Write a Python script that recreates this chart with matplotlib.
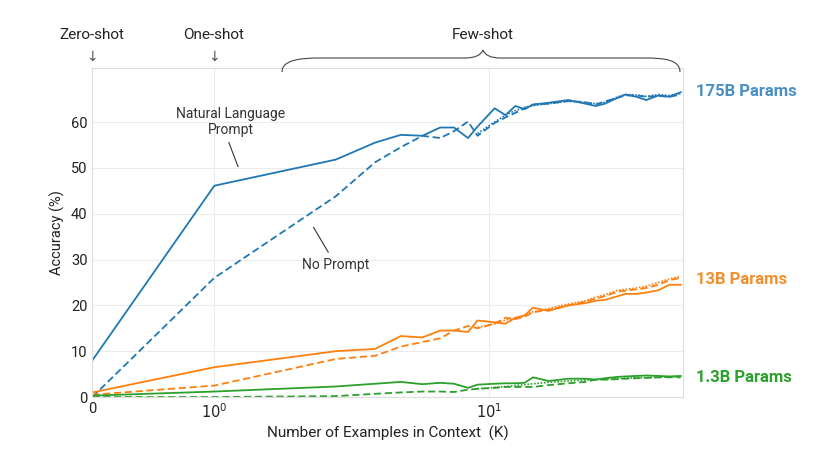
import matplotlib
matplotlib.use("Agg")
import matplotlib.pyplot as plt
from matplotlib.path import Path
from matplotlib.patches import PathPatch

plt.rcParams["font.family"] = "Roboto"

K_main = [0, 1, 2.77, 3.85, 4.78, 5.73, 6.65, 7.47, 8.4, 9.1, 10.5, 11.5, 12.5, 13.5, 14.5, 16.5, 19.5, 22.5, 24.5, 26.5, 29.5, 31.5, 34.5, 37.5, 41.5, 45.5, 50]
big_nl = [8.0, 46.1, 51.8, 55.5, 57.2, 57.0, 58.8, 58.8, 56.5, 59.0, 63.0, 61.5, 63.5, 62.8, 63.8, 64.2, 64.8, 64.0, 63.5, 64.0, 65.3, 66.0, 65.5, 64.8, 65.8, 65.5, 66.5]
big_np = [0.0, 26.0, 43.8, 51.2, 54.5, 57.0, 56.5, 58.0, 60.1, 57.0, 59.8, 61.0, 62.0, 63.0, 63.8, 64.0, 64.6, 64.3, 63.8, 64.5, 65.3, 65.8, 65.8, 65.5, 65.7, 65.5, 66.0]
big_dot = [None]*9 + [57.5, 60.0, 61.5, 62.5, 63.2, 63.6, 64.0, 64.5, 64.3, 64.0, 64.3, 65.5, 66.0, 65.9, 65.6, 66.0, 65.8, 66.2]
mid_nl = [1.0, 6.5, 10.0, 10.5, 13.3, 13.0, 14.5, 14.5, 14.2, 16.7, 16.3, 16.0, 17.3, 17.8, 19.5, 18.8, 20.0, 20.5, 21.0, 21.2, 22.0, 22.5, 22.5, 22.8, 23.3, 24.5, 24.5]
mid_np = [0.5, 2.5, 8.3, 9.0, 11.0, 12.0, 12.8, 14.5, 15.5, 15.0, 16.0, 17.3, 17.0, 17.5, 18.5, 19.0, 20.0, 20.8, 21.5, 22.0, 23.0, 23.2, 23.5, 23.8, 24.5, 25.5, 26.0]
mid_dot = [None]*9 + [15.2, 16.0, 16.8, 17.2, 17.8, 18.6, 19.3, 20.3, 21.0, 21.8, 22.3, 23.3, 23.5, 23.8, 24.2, 25.0, 25.8, 26.3]
small_nl = [0.3, 1.2, 2.3, 2.9, 3.3, 2.8, 3.1, 2.9, 2.0, 2.7, 2.9, 3.0, 3.0, 3.1, 4.3, 3.5, 4.0, 4.0, 3.8, 4.1, 4.4, 4.5, 4.6, 4.7, 4.6, 4.5, 4.6]
small_np = [0.0, 0.0, 0.2, 0.7, 1.0, 1.2, 1.2, 1.1, 1.6, 1.8, 2.0, 2.2, 2.2, 2.2, 2.2, 2.6, 3.0, 3.3, 3.8, 3.8, 3.9, 4.0, 4.1, 4.2, 4.3, 4.3, 4.3]
small_dot = [None]*9 + [1.8, 2.1, 2.3, 2.5, 2.7, 2.9, 3.2, 3.5, 3.7, 3.8, 3.9, 4.0, 4.1, 4.2, 4.2, 4.3, 4.4, 4.4]

BLUE, ORANGE, GREEN = "#1f77b4", "#ff7f0e", "#2ca02c"

fig = plt.figure(figsize=(8.17, 4.59), dpi=100)
ax = fig.add_axes([0.113, 0.135, 0.723, 0.717])
ax.set_xscale("symlog", linthresh=1, linscale=0.4)

def clean(k, v):
    pts = [(a, b) for a, b in zip(k, v) if b is not None]
    return [p[0] for p in pts], [p[1] for p in pts]

for c, nl, npv, dot in [(BLUE, big_nl, big_np, big_dot), (ORANGE, mid_nl, mid_np, mid_dot), (GREEN, small_nl, small_np, small_dot)]:
    ax.plot(K_main, nl, color=c, lw=1.3)
    ax.plot(K_main, npv, color=c, lw=1.3, ls=(0, (4, 2)))
    ax.plot(*clean(K_main, dot), color=c, lw=1.2, ls=(0, (1, 1)))

ax.set_xlim(0, 51)
ax.set_ylim(0, 71.8)
ax.set_xticks([0, 1, 10])
ax.set_xticklabels(["0", "$10^0$", "$10^1$"])
ax.xaxis.set_minor_locator(matplotlib.ticker.NullLocator())
ax.set_yticks([0, 10, 20, 30, 40, 50, 60])
ax.tick_params(length=0, labelsize=10.5, colors="#222222")
ax.grid(True, color="#ebebeb", lw=0.8)
for s in ax.spines.values():
    s.set_color("#dddddd")
ax.set_xlabel("Number of Examples in Context  (K)", fontsize=11, color="#222222")
ax.set_ylabel("Accuracy (%)", fontsize=10.5, color="#222222")

ax.text(1.15, 60, "Natural Language\nPrompt", ha="center", va="center", fontsize=10, color="#333333")
ax.plot([1.13, 1.22], [55.5, 50.3], color="#333333", lw=0.8)
ax.text(2.77, 28.8, "No Prompt", ha="center", va="center", fontsize=10, color="#333333")
ax.plot([2.3, 2.6], [37.0, 31.6], color="#333333", lw=0.8)

H = 459
def fy(y):
    return 1 - y / H
def fx(x):
    return x / 817
fig.text(fx(92), fy(35), "Zero-shot", ha="center", va="center", fontsize=11, color="#222222")
fig.text(fx(92), fy(57), "↓", ha="center", va="center", fontsize=10, color="#555555", family="DejaVu Sans")
fig.text(fx(214), fy(35), "One-shot", ha="center", va="center", fontsize=11, color="#222222")
fig.text(fx(214), fy(57), "↓", ha="center", va="center", fontsize=10, color="#555555", family="DejaVu Sans")
fig.text(fx(483), fy(35), "Few-shot", ha="center", va="center", fontsize=11, color="#222222")

verts = [(282, 72), (282, 60), (300, 58), (320, 58), (465, 58), (480, 58), (483, 50),
         (486, 58), (500, 58), (645, 58), (665, 58), (680, 60), (680, 72)]
codes = [Path.MOVETO, Path.CURVE4, Path.CURVE4, Path.CURVE4, Path.LINETO, Path.CURVE3, Path.CURVE3,
         Path.CURVE3, Path.CURVE3, Path.LINETO, Path.CURVE4, Path.CURVE4, Path.CURVE4]
p = Path([(fx(x), fy(y)) for x, y in verts], codes)
fig.add_artist(PathPatch(p, transform=fig.transFigure, fill=False, lw=0.8, edgecolor="#444444"))

fig.text(fx(696), fy(92), "175B Params", ha="left", va="center", fontsize=12, fontweight="bold", color="#4a8fc4")
fig.text(fx(696), fy(280), "13B Params", ha="left", va="center", fontsize=12, fontweight="bold", color="#f28e2b")
fig.text(fx(696), fy(378), "1.3B Params", ha="left", va="center", fontsize=12, fontweight="bold", color="#2ca02c")

fig.savefig("out.png", dpi=100)
